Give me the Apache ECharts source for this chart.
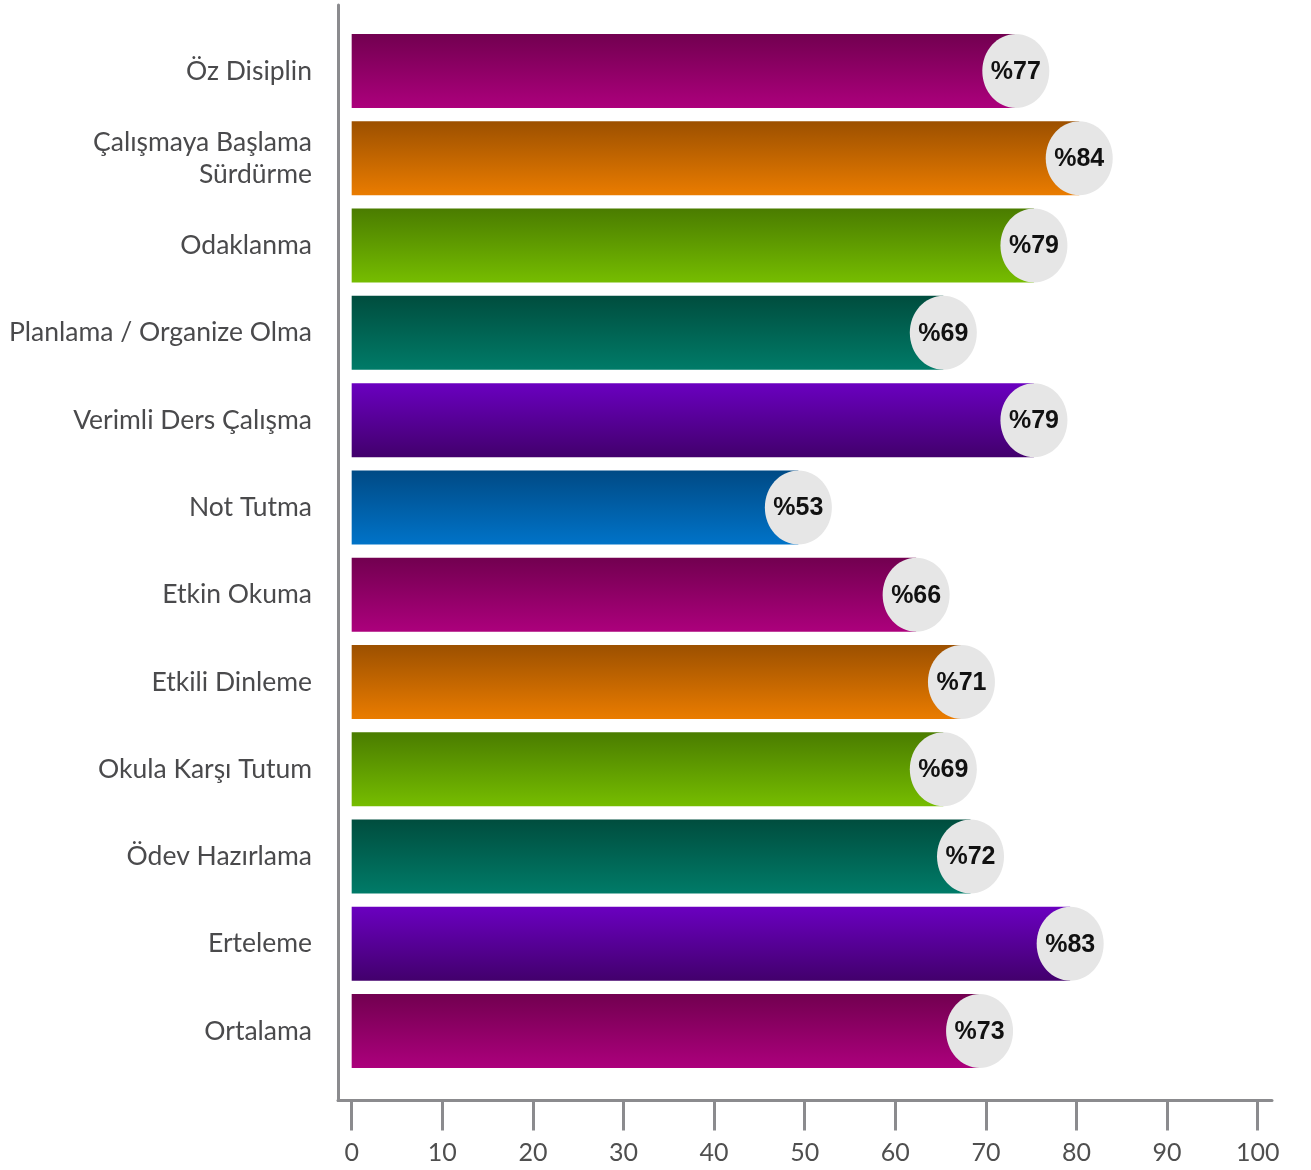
<!DOCTYPE html>
<html>
<head>
<meta charset="utf-8">
<script src="https://cdn.jsdelivr.net/npm/echarts@6/dist/echarts.min.js"></script>
<style>
html,body{margin:0;padding:0;background:#fff;}
#chart{width:1311px;height:1170px;}
</style>
</head>
<body>
<div id="chart"></div>
<script>
const categories = ['Öz Disiplin', 'Çalışmaya Başlama\nSürdürme', 'Odaklanma', 'Planlama / Organize Olma', 'Verimli Ders Çalışma', 'Not Tutma', 'Etkin Okuma', 'Etkili Dinleme', 'Okula Karşı Tutum', 'Ödev Hazırlama', 'Erteleme', 'Ortalama'];
const values = [77, 84, 79, 69, 79, 53, 66, 71, 69, 72, 83, 73];
const tickValues = [0, 10, 20, 30, 40, 50, 60, 70, 80, 90, 100];
const colorKeys = ['magenta', 'orange', 'green', 'teal', 'purple', 'blue', 'magenta', 'orange', 'green', 'teal', 'purple', 'magenta'];

const gradients = {
  magenta: ['#720050', '#ac007c'],
  orange: ['#9c5000', '#ea7c00'],
  green: ['#4a7c00', '#76bd00'],
  teal: ['#004d3e', '#007b68'],
  purple: ['#6a00c0', '#42006c'],
  blue: ['#004a85', '#0073c8']
};

const X_MIN = -1.51, X_MAX = 101.58;
const axisColor = '#8b8b8e';

const chart = echarts.init(document.getElementById('chart'), null, {renderer: 'canvas'});
chart.setOption({
  backgroundColor: '#fff',
  animation: false,
  grid: [
    {left: 338, width: 934, top: 27.4, height: 1047.3},
    {left: 338, width: 934, top: 5, height: 1095.5}
  ],
  xAxis: [
    {gridIndex: 0, type: 'value', min: X_MIN, max: X_MAX, show: false},
    {
      gridIndex: 1, type: 'value', min: X_MIN, max: X_MAX,
      axisLine: {show: true, onZero: false, lineStyle: {color: axisColor, width: 3}},
      axisTick: {show: true, customValues: tickValues, length: 30, lineStyle: {color: axisColor, width: 3}},
      axisLabel: {customValues: tickValues, fontSize: 25, color: '#4f4f4f', margin: 40, fontFamily: 'Lato'},
      splitLine: {show: false}
    }
  ],
  yAxis: [
    {
      gridIndex: 0, type: 'category', inverse: true, data: categories,
      axisLine: {show: false}, axisTick: {show: false},
      axisLabel: {fontSize: 26.5, color: '#4a4a4c', margin: 26, lineHeight: 32, fontFamily: 'Lato', align: 'right', padding: [4, 0, 0, 0]}
    },
    {
      gridIndex: 1, type: 'value', min: 0, max: 1,
      axisLine: {show: true, onZero: false, lineStyle: {color: axisColor, width: 3}},
      axisTick: {show: false}, axisLabel: {show: false}, splitLine: {show: false}
    }
  ],
  series: [{
    type: 'custom',
    xAxisIndex: 0, yAxisIndex: 0,
    encode: {x: 1, y: 0},
    data: values.map((v, i) => [i, v]),
    renderItem: function (params, api) {
      const i = api.value(0);
      const v = api.value(1);
      const end = api.coord([v, i]);
      const start = api.coord([0, i]);
      const band = api.size([0, 1])[1];
      const h = band * 0.848;
      const rx = 33.5, ry = h / 2;
      const cx = end[0] - rx;
      const c = gradients[colorKeys[i]];
      return {
        type: 'group',
        children: [
          {
            type: 'rect',
            shape: {x: start[0], y: end[1] - h / 2, width: cx - start[0], height: h},
            style: {fill: new echarts.graphic.LinearGradient(0, 0, 0, 1, [{offset: 0, color: c[0]}, {offset: 1, color: c[1]}])}
          },
          {
            type: 'ellipse',
            shape: {cx: cx, cy: end[1], rx: rx, ry: ry},
            style: {fill: '#e6e6e6'}
          },
          {
            type: 'text',
            style: {text: '%' + v, x: cx, y: end[1] + 1, align: 'center', verticalAlign: 'middle', font: 'bold 25px "Liberation Sans"', fill: '#111'}
          }
        ]
      };
    }
  }]
});
</script>
</body>
</html>
